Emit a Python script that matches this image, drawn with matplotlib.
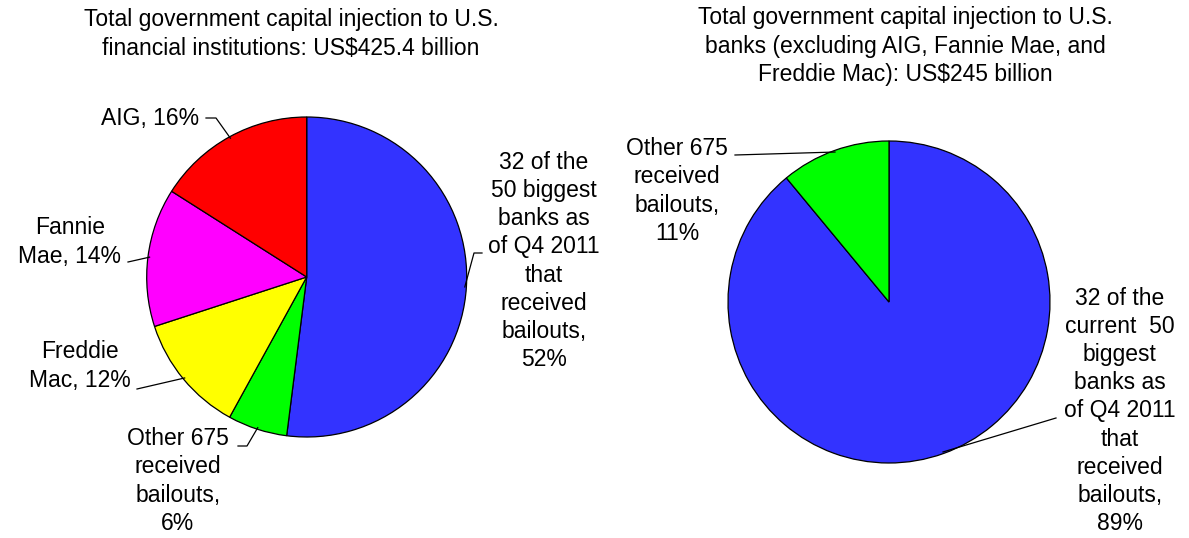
import numpy as np
import matplotlib
matplotlib.use("Agg")
import matplotlib.pyplot as plt

plt.rcParams['font.family'] = ['Liberation Sans', 'DejaVu Sans']

# left pie: all financial institutions
left_title = "Total government capital injection to U.S.\nfinancial institutions: US$425.4 billion"
left_names = ["32 of the\n50 biggest\nbanks as\nof Q4 2011\nthat\nreceived\nbailouts,",
              "Other 675\nreceived\nbailouts,", "Freddie\nMac,", "Fannie\nMae,", "AIG,"]
left_values = [52, 6, 12, 14, 16]
left_colors = ["#3333FF", "#00FF00", "#FFFF00", "#FF00FF", "#FF0000"]

# right pie: banks only
right_title = "Total government capital injection to U.S.\nbanks (excluding AIG, Fannie Mae, and\nFreddie Mac): US$245 billion"
right_names = ["32 of the\ncurrent  50\nbiggest\nbanks as\nof Q4 2011\nthat\nreceived\nbailouts,",
               "Other 675\nreceived\nbailouts,"]
right_values = [89, 11]
right_colors = ["#3333FF", "#00FF00"]

W, H = 1189, 538
fig = plt.figure(figsize=(W / 100, H / 100), dpi=100)
ax = fig.add_axes([0, 0, 1, 1])

FS = 16.5
LS = 1.29


def label_text(name, v):
    # short labels keep the value on the last name line
    if name.count("\n") <= 1:
        return f"{name} {v}%"
    return f"{name}\n{v}%"


def draw_pie(values, colors, names, center, radius, label_pos, leaders):
    wedges, _ = ax.pie(values, colors=colors, startangle=-90, counterclock=True,
                       center=center, radius=radius,
                       wedgeprops=dict(edgecolor="black", linewidth=0.9))
    for w, name, v, pos, lead in zip(wedges, names, values, label_pos, leaders):
        ax.text(pos[0], pos[1], label_text(name, v), ha="center", va="center",
                fontsize=FS, linespacing=LS)
        mid = np.deg2rad((w.theta1 + w.theta2) / 2)
        ex = center[0] + radius * 0.99 * np.cos(mid)
        ey = center[1] + radius * 0.99 * np.sin(mid)
        xs = [p[0] for p in lead] + [ex]
        ys = [p[1] for p in lead] + [ey]
        ax.plot(xs, ys, color="black", linewidth=0.9)


draw_pie(left_values, left_colors, left_names, (306.7, 277), 160,
         [(544, 261), (178, 481), (80, 366), (70, 242), (150, 118)],
         [[(482, 253), (474, 253)], [(238, 446), (247, 446)],
          [(137, 389)], [(128, 262)], [(206, 118), (216, 118)]])

draw_pie(right_values, right_colors, right_names, (889, 302), 161,
         [(1120, 411), (677, 191)],
         [[(1056, 418)], [(735, 155)]])

ax.text(291, 34, left_title, ha="center", va="center", fontsize=FS, linespacing=LS)
ax.text(905, 46, right_title, ha="center", va="center", fontsize=FS, linespacing=LS)

ax.set_xlim(0, W)
ax.set_ylim(H, 0)
ax.set_aspect("equal")
ax.axis("off")

fig.savefig("out.png", dpi=100)
